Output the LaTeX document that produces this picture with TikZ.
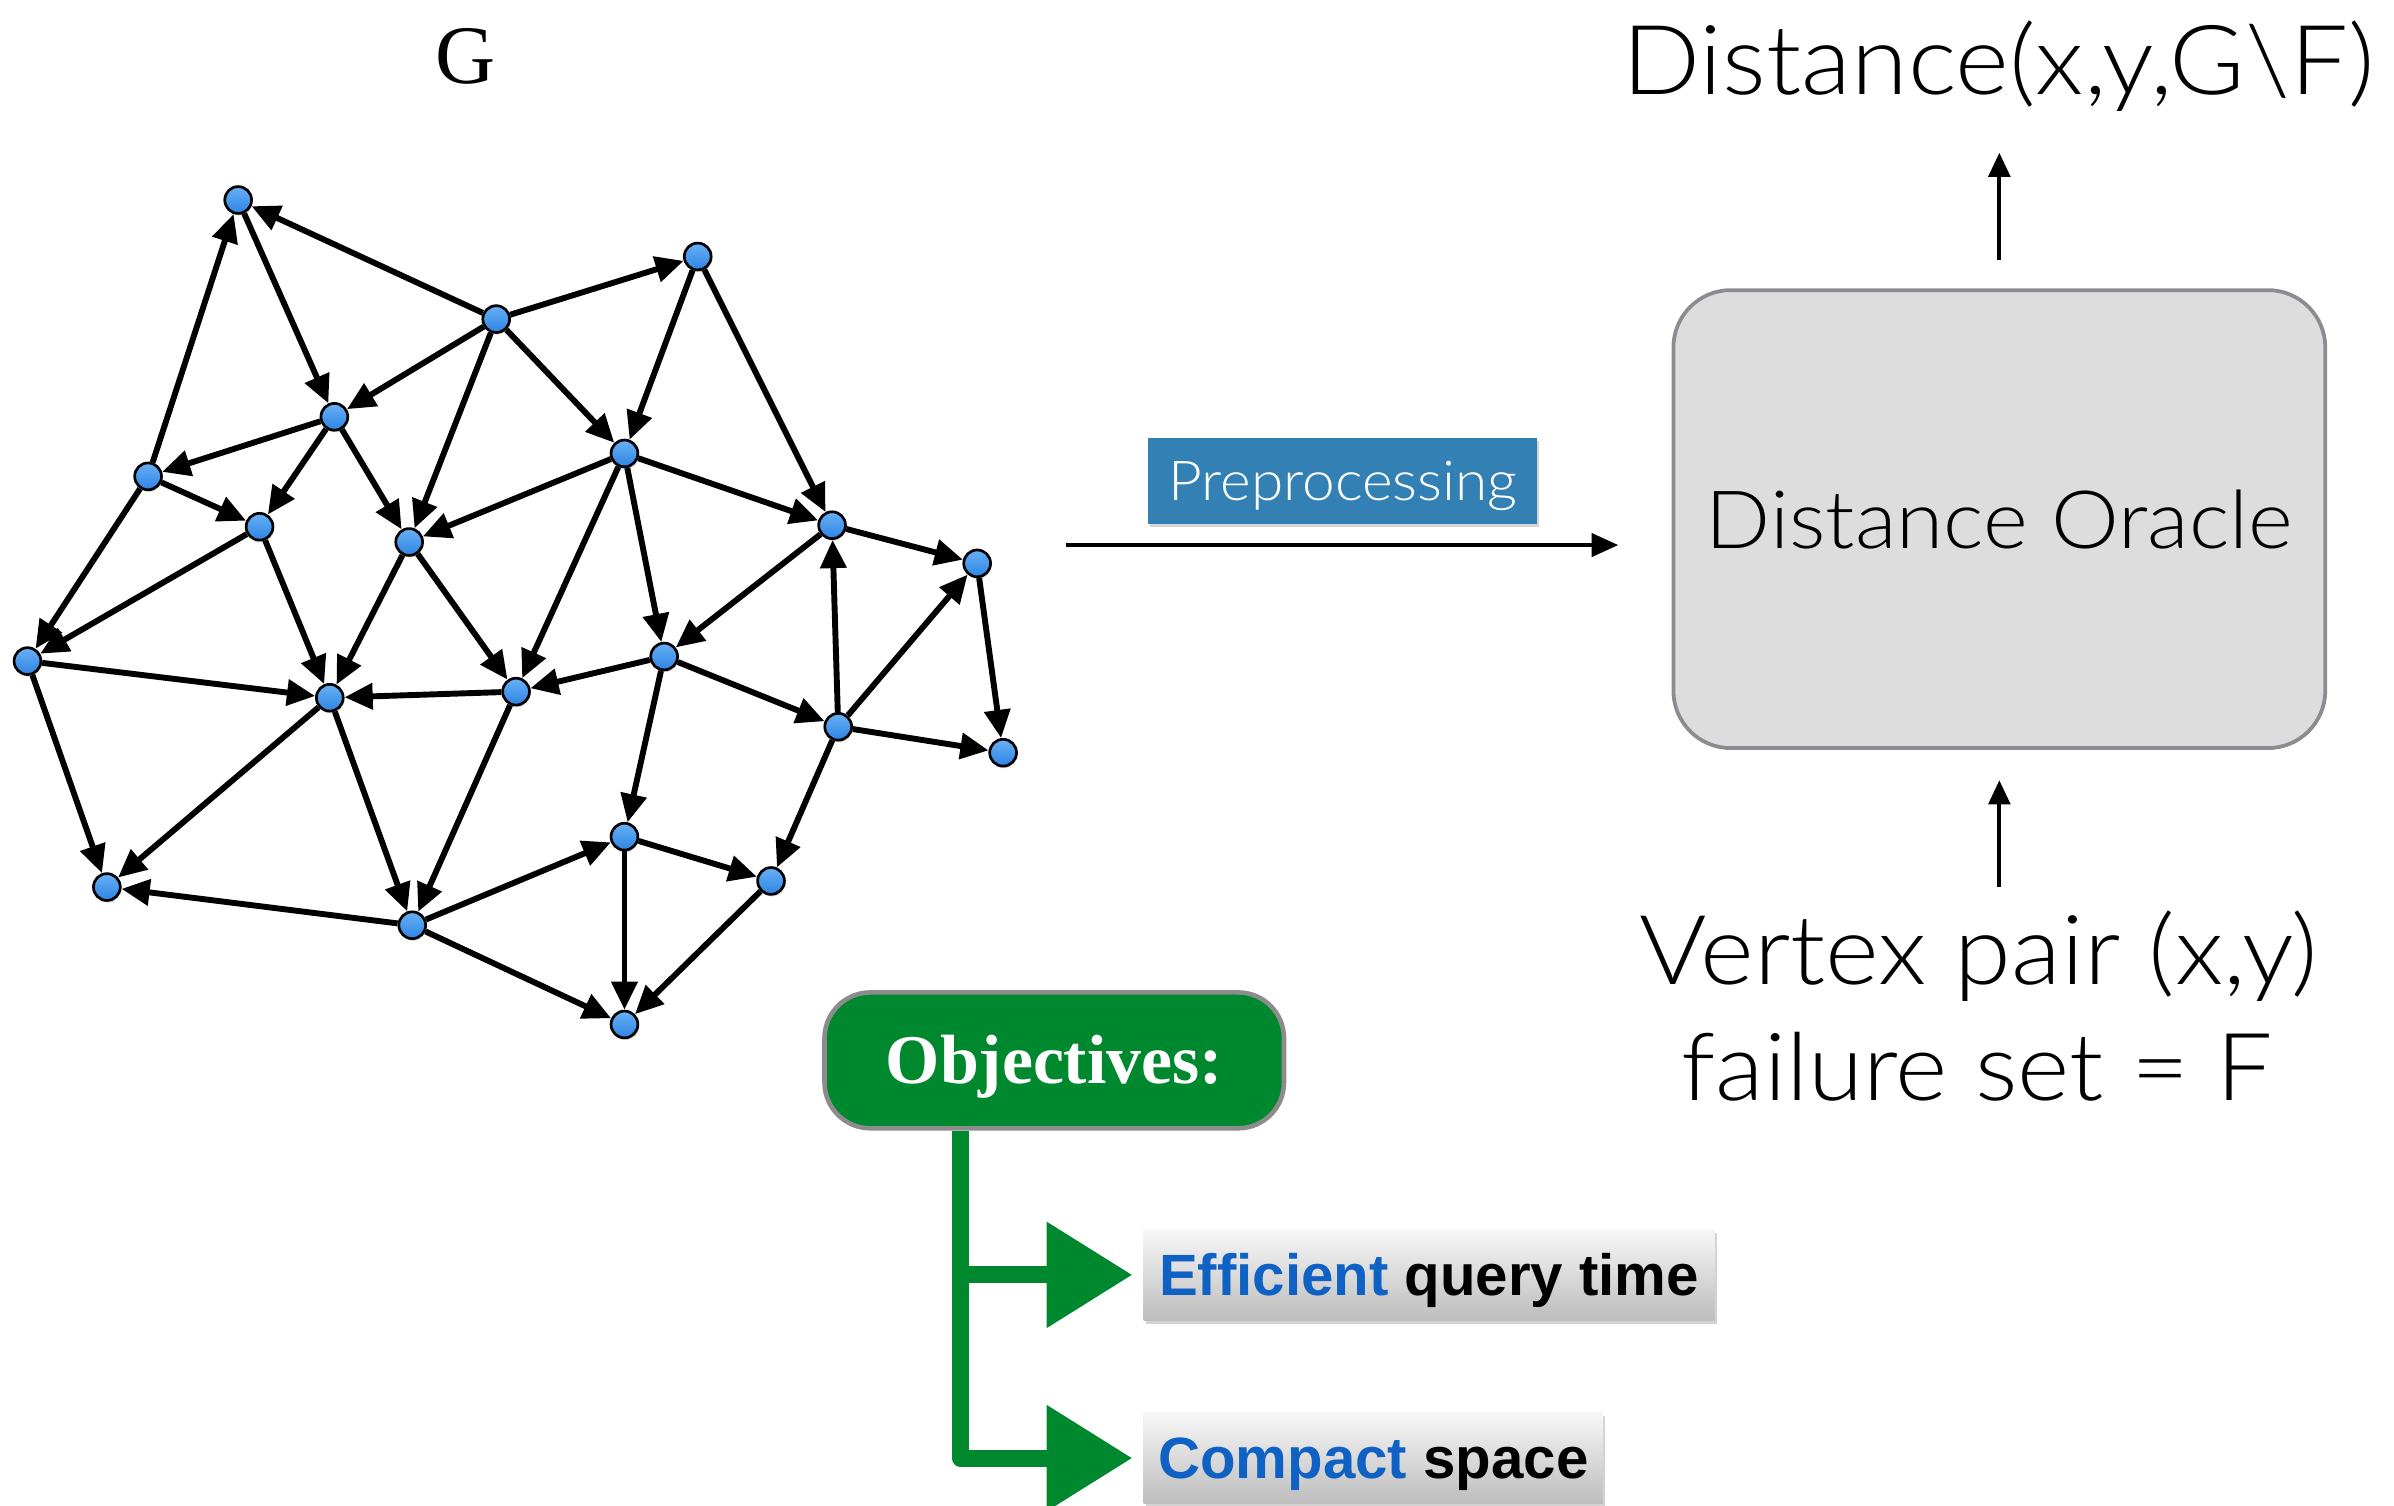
\documentclass[tikz,border=0pt]{standalone}
\usepackage{fontspec}
\setmainfont{Liberation Sans}
\newfontfamily\serifface{Liberation Serif}
\newfontfamily\thinface{Lato Light}[FakeStretch=1.065]
\usetikzlibrary{arrows.meta,shadows}
\definecolor{vblue}{RGB}{45,132,228}
\definecolor{vbluetop}{RGB}{105,176,245}
\definecolor{ppblue}{RGB}{50,128,180}
\definecolor{objgreen}{RGB}{0,136,46}
\definecolor{objborder}{RGB}{140,140,140}
\definecolor{oraclefill}{RGB}{221,221,221}
\definecolor{oracleborder}{RGB}{138,140,145}
\definecolor{effblue}{RGB}{15,98,196}
\begin{document}
\begin{tikzpicture}[x=0.02cm,y=-0.02cm,
  vtx/.style={circle,draw=black,line width=1pt,minimum size=10pt,inner sep=0pt,
    top color=vbluetop,bottom color=vblue,
    drop shadow={shadow xshift=0.4pt,shadow yshift=-0.8pt,opacity=0.3}},
  dedge/.style={-{Triangle[length=10.5pt,width=9.5pt]},line width=2.2pt},
  parr/.style={-{Triangle[length=10pt,width=8.5pt]},line width=1.8pt},
  varr/.style={-{Triangle[length=9pt,width=8pt]},line width=1.5pt},
  bigtext/.style={font=\thinface\fontsize{36}{42}\selectfont,inner sep=0pt},
  graybox/.style={top color=black!3,bottom color=black!26,inner sep=0pt,
    drop shadow={shadow xshift=0.8pt,shadow yshift=-1.4pt,opacity=0.35},
    font=\bfseries\fontsize{21.7}{26}\selectfont,text height=15.5pt,text depth=0pt,
    minimum height=1.2cm},
  gline/.style={draw=objgreen,line width=6.3pt,line join=round,
    -{Triangle[length=32pt,width=38pt]},shorten >=4pt}
]
\useasboundingbox (0,0) rectangle (1568,986);

% ---------- graph ----------
\node[vtx] (A) at (156,131) {};
\node[vtx] (B) at (325,209) {};
\node[vtx] (C) at (457,168) {};
\node[vtx] (D) at (219,273) {};
\node[vtx] (E) at (97,312) {};
\node[vtx] (F) at (170,345) {};
\node[vtx] (G) at (268,355) {};
\node[vtx] (H) at (409,297) {};
\node[vtx] (I) at (545,344) {};
\node[vtx] (J) at (640,369) {};
\node[vtx] (K) at (18,433) {};
\node[vtx] (L) at (216,457) {};
\node[vtx] (M) at (338,453) {};
\node[vtx] (N) at (435,430) {};
\node[vtx] (O) at (549,476) {};
\node[vtx] (P) at (657,493) {};
\node[vtx] (Q) at (70,581) {};
\node[vtx] (R) at (409,548) {};
\node[vtx] (S) at (505,577) {};
\node[vtx] (T) at (270,606) {};
\node[vtx] (U) at (409,671) {};

\foreach \s/\t in {B/A,E/A,A/D,B/D,B/C,B/G,B/H,C/H,C/I,D/E,D/F,D/G,E/F,E/K,F/K,F/L,
  G/L,G/M,H/G,H/I,H/M,H/N,I/J,I/N,O/I,O/J,J/P,O/P,N/O,N/M,N/R,O/S,M/L,M/T,K/L,K/Q,
  L/Q,L/T,T/Q,T/R,T/U,R/S,R/U,S/U}
  \draw[dedge] (\s) -- (\t);

\node[font=\serifface\mdseries\fontsize{31}{36}\selectfont,anchor=base,inner sep=0pt] (glabel) at (305,55) {G};

% ---------- preprocessing ----------
\node[fill=ppblue,text=white,minimum width=5.1cm,minimum height=1.12cm,inner sep=0pt,
  font=\thinface\fontsize{20.5}{24}\selectfont,text height=14.5pt,text depth=0pt,
  drop shadow={shadow xshift=0.6pt,shadow yshift=-1.2pt,opacity=0.35}]
  (pp) at (879.5,315) {Preprocessing};
\coordinate (ppstart) at (698,357);
\coordinate (ppend) at (1060,357);
\draw[parr] (ppstart) -- (ppend);

% ---------- oracle ----------
\node[draw=oracleborder,line width=1.4pt,fill=oraclefill,rounded corners=0.75cm,
  minimum width=8.54cm,minimum height=6cm,font=\thinface\fontsize{30}{36}\selectfont]
  (oracle) at (1309.5,340) {Distance Oracle};
\node[bigtext,anchor=base] (dist) at (1309,62) {Distance(x,y,G\textbackslash F)};
\coordinate (uptop) at (1309.5,100);
\coordinate (upbot) at (1309.5,170);
\draw[varr] (upbot) -- (uptop);
\coordinate (intop) at (1309.5,511);
\coordinate (inbot) at (1309.5,581);
\draw[varr] (inbot) -- (intop);
\node[bigtext,anchor=base] (vpair) at (1296,645) {Vertex pair (x,y)};
\node[bigtext,anchor=base,font=\thinface\fontsize{35}{42}\selectfont] (fset) at (1295,720.5) {failure set = F};

% ---------- objectives ----------
\node[fill=objgreen,draw=objborder,line width=1.7pt,rounded corners=0.6cm,
  minimum width=6.02cm,minimum height=1.78cm,text=white,inner sep=0pt,
  font=\serifface\bfseries\fontsize{26}{30}\selectfont,text height=17.2pt,text depth=0pt]
  (obj) at (690.5,694.5) {Objectives:};
\node[graybox,minimum width=7.48cm] (eq) at (936,835)
  {\textcolor{effblue}{Efficient} query time};
\node[graybox,minimum width=6.02cm] (cs) at (899.5,955)
  {\textcolor{effblue}{Compact} space};
\coordinate (gx) at (629,0);
\draw[gline] (obj.south -| gx) -- (gx |- cs.west) -- (cs.west);
\draw[gline] (gx |- eq.west) -- (eq.west);
\end{tikzpicture}
\end{document}
